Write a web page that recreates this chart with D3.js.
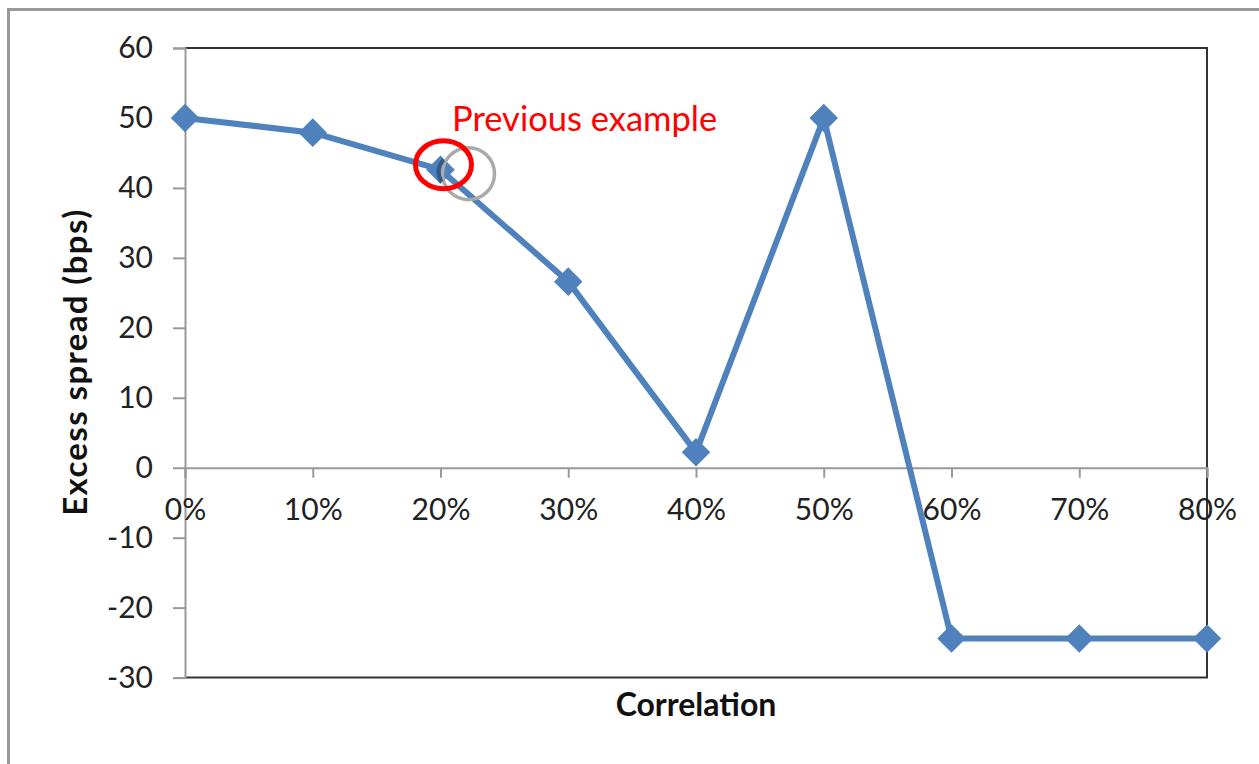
<!DOCTYPE html>
<html><head><meta charset="utf-8">
<script src="https://cdn.jsdelivr.net/npm/d3@7"></script>
<style>
html,body{margin:0;padding:0;background:#fff;overflow:hidden;}
text{font-family:Lato,"Open Sans",sans-serif;}
</style></head>
<body>
<svg id="chart" width="1259" height="764"></svg>
<script>
const categories = ["0%","10%","20%","30%","40%","50%","60%","70%","80%"];
const excessSpread = [50, 47.9, 42.6, 26.6, 2.2, 50, -24.4, -24.4, -24.4];
const yTicks = [60, 50, 40, 30, 20, 10, 0, -10, -20, -30];
const xTitle = "Correlation";
const yTitle = "Excess spread (bps)";
const annotationText = "Previous example";
const annotatedIndex = 2;

const svg = d3.select("#chart");
const m = {left:185, top:48, right:1207, bottom:677.6};

// outer frame
svg.append("rect").attr("x",8.5).attr("y",9.5).attr("width",1300).attr("height",800)
  .attr("fill","#fff").attr("stroke","#999").attr("stroke-width",3);

const x = d3.scalePoint().domain(categories).range([m.left, m.right]);
const y = d3.scaleLinear().domain([-30, 60]).range([m.bottom, m.top]);

// plot frame top/right
svg.append("path")
  .attr("d", `M${m.left},${m.top}H${m.right}V${m.bottom}H${m.left}`)
  .attr("fill","none").attr("stroke","#333").attr("stroke-width",2);

// y axis
const yAxis = svg.append("g").attr("transform",`translate(${m.left},0)`)
  .call(d3.axisLeft(y).tickValues(yTicks).tickSize(12).tickPadding(20).tickFormat(d => String(d)));
yAxis.select(".domain").attr("stroke","#999").attr("stroke-width",2);
yAxis.selectAll(".tick line").attr("stroke","#999").attr("stroke-width",2);
yAxis.selectAll(".tick text").attr("font-size",30).attr("fill","#222").attr("font-family","Lato");

// x axis at zero
const xAxis = svg.append("g").attr("transform",`translate(0,${y(0)})`)
  .call(d3.axisBottom(x).tickSize(10).tickPadding(21));
xAxis.select(".domain").attr("stroke","#999").attr("stroke-width",2);
xAxis.selectAll(".tick line").attr("stroke","#999").attr("stroke-width",2);
xAxis.selectAll(".tick text").attr("font-size",30).attr("fill","#222").attr("font-family","Lato");

// line
const data = categories.map((c,i)=>({c, v:excessSpread[i]}));
svg.append("path").datum(data)
  .attr("d", d3.line().x(d=>x(d.c)).y(d=>y(d.v)))
  .attr("fill","none").attr("stroke","#4F81BD").attr("stroke-width",6).attr("stroke-linejoin","round");

svg.selectAll(".mk").data(data).enter().append("path").attr("class","mk")
  .attr("transform", d=>`translate(${x(d.c)},${y(d.v)})`)
  .attr("d", d3.symbol(d3.symbolDiamond2, 520)())
  .attr("fill","#4F81BD");

// annotation
const ax = x(categories[annotatedIndex]), ay = y(excessSpread[annotatedIndex]);
svg.append("ellipse").attr("cx",ax+28).attr("cy",ay+4).attr("rx",26).attr("ry",26)
  .attr("fill","none").attr("stroke","#aaa").attr("stroke-width",3.5);
svg.append("path").attr("d",`M${ax+3},${ay-10} Q${ax-6},${ay} ${ax+1},${ay+12}`)
  .attr("fill","none").attr("stroke","#2f5a8a").attr("stroke-width",4);
svg.append("ellipse").attr("cx",ax+3).attr("cy",ay-5).attr("rx",28).attr("ry",24)
  .attr("fill","none").attr("stroke","#f00").attr("stroke-width",5);
svg.append("text").attr("x",452).attr("y",131).attr("fill","#f00")
  .attr("font-size",34.5).text(annotationText);

// titles
svg.append("text").attr("x",(m.left+m.right)/2).attr("y",716).attr("text-anchor","middle")
  .attr("font-size",32).attr("font-weight","bold").attr("fill","#111").text(xTitle);
svg.append("text").attr("transform",`translate(87,${(m.top+m.bottom)/2}) rotate(-90)`)
  .attr("text-anchor","middle").attr("font-size",33).attr("font-weight","bold").attr("fill","#111")
  .attr("textLength",306).attr("lengthAdjust","spacing").text(yTitle);
</script>
</body></html>
